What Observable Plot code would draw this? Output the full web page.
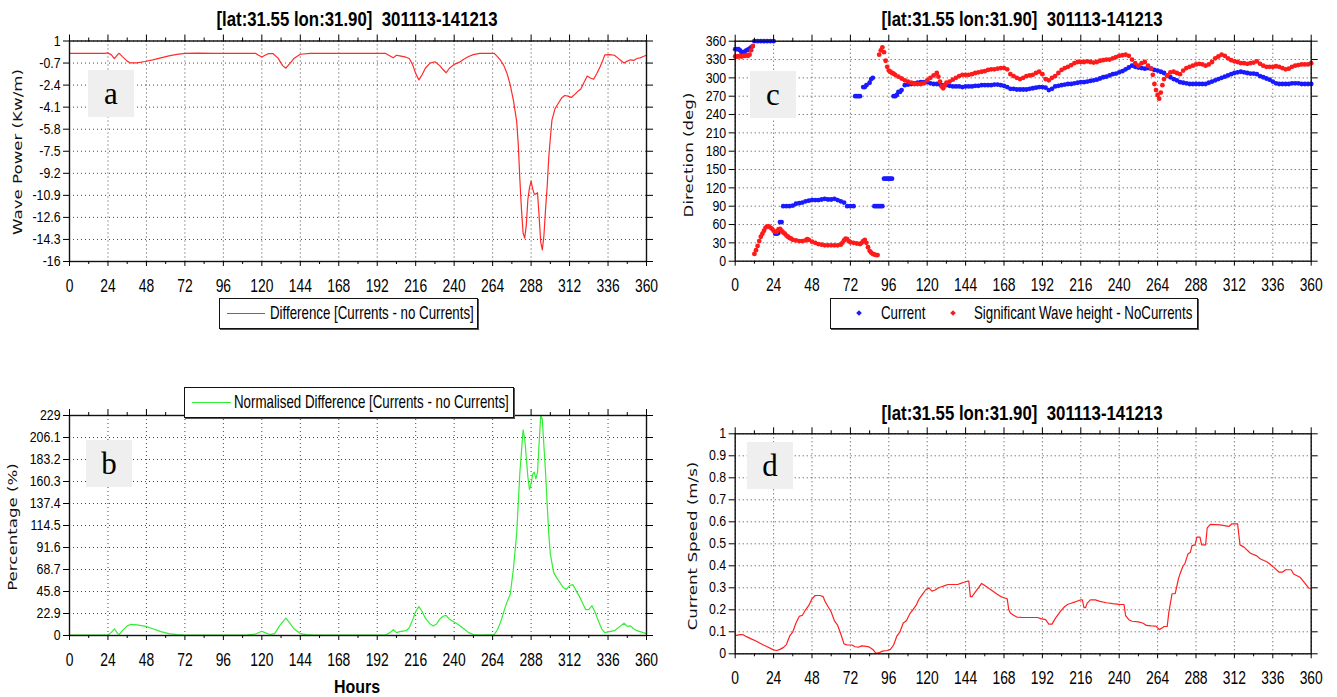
<!DOCTYPE html>
<html>
<head>
<meta charset="utf-8">
<script src="https://cdn.jsdelivr.net/npm/d3@7"></script>
<script src="https://cdn.jsdelivr.net/npm/@observablehq/plot@0.6"></script>
<style>
  body { margin: 0; background: #fff; }
  #page { position: relative; width: 1337px; height: 697px; overflow: hidden; background: #fff;
          font-family: "Liberation Sans", Arial, sans-serif; color: #000; }
  .abs { position: absolute; white-space: nowrap; }
  .title { font-weight: bold; font-size: 21px; line-height: 20px; transform: translateX(-50%) scaleX(0.8); }
  .ytitle { font-family: "DejaVu Sans", sans-serif; font-size: 13px; line-height: 14px; color: #111;
            transform: translate(-50%, -50%) rotate(-90deg) scaleX(1.28); }
  .legend { border: 1.5px solid #111; box-shadow: 1px 1px 0 #555; background: #fff; box-sizing: border-box; }
  .legend > * { position: absolute; }
  .swatch { top: 13.5px; height: 0; border-top: 1.5px solid; }
  .ltext { top: 3px; font-size: 19px; line-height: 22px; transform: scaleX(0.7); transform-origin: left center; white-space: nowrap; }
  .mark { top: 12px; width: 4px; height: 4px; transform: rotate(45deg); }
  .tag { background: #efefef; font-family: "Liberation Serif", "Times New Roman", serif; font-size: 31px;
         display: flex; align-items: center; justify-content: center; }
  .hours { font-weight: bold; font-size: 19px; line-height: 18px; transform: translate(-50%, -50%) scaleX(0.84); }
</style>
</head>
<body>
<div id="page"></div>
<script>
// Shared hour axis (0–360 h, 15 days)
const hourTicks = [0, 24, 48, 72, 96, 120, 144, 168, 192, 216, 240, 264, 288, 312, 336, 360];
const halfTicks = [12, 36, 60, 84, 108, 132, 156, 180, 204, 228, 252, 276, 300, 324, 348];

const titleText = "[lat:31.55 lon:31.90]&nbsp; 301113-141213";

// (a) Wave power difference, Currents − no Currents (kW/m)
const powerTicks = [1, -0.7, -2.4, -4.1, -5.8, -7.5, -9.2, -10.9, -12.6, -14.3, -16];
const diffHours = [0, 8, 16, 22, 24, 26, 28, 30, 31, 33, 36, 38, 42, 47, 52, 57, 62, 67, 72, 80, 90, 100, 110, 116, 118, 120, 122, 124, 127, 130, 133, 135, 137, 140, 144, 150, 160, 170, 180, 190, 197, 200, 202, 204, 206, 210, 212, 214, 216, 218, 220, 222, 225, 228, 231, 233, 235, 237, 240, 243, 246, 249, 252, 256, 265, 267, 269, 271, 273, 275, 277, 279, 280, 281, 282, 283, 284, 285, 286, 287, 288, 289, 290, 291, 292, 293, 294, 295, 296, 297, 298, 299, 300, 301, 303, 305, 307, 309, 311, 313, 315, 317, 319, 321, 323, 325, 327, 329, 331, 333, 334, 337, 340, 342, 344, 346, 348, 350, 352, 354, 356, 358, 360];
const diffValues = [0.05, 0.05, 0.05, 0.05, 0.08, -0.05, -0.35, -0.05, 0.05, -0.2, -0.55, -0.69, -0.68, -0.58, -0.45, -0.3, -0.15, -0.03, 0.05, 0.07, 0.05, 0.05, 0.05, 0.05, -0.1, -0.23, -0.1, 0.02, 0.02, -0.3, -0.9, -1.1, -0.8, -0.35, -0.02, 0.05, 0.05, 0.05, 0.05, 0.05, 0.05, -0.15, -0.3, -0.1, -0.15, -0.25, -0.35, -0.8, -1.5, -2.0, -1.6, -1.1, -0.7, -0.6, -0.9, -1.2, -1.45, -1.1, -0.8, -0.65, -0.4, -0.2, -0.05, 0.05, 0.05, -0.2, -0.5, -0.9, -1.5, -2.4, -3.6, -5.2, -7, -9.7, -12, -13.8, -14.2, -13.2, -11.2, -10.3, -9.8, -10.4, -10.8, -10.8, -10.7, -12.5, -14.5, -15.1, -14, -12, -10.3, -8, -6.5, -5.1, -4.2, -3.8, -3.4, -3.2, -3.25, -3.35, -3.15, -2.9, -2.7, -2.2, -1.7, -1.85, -1.95, -1.5, -1.0, -0.4, -0.07, -0.05, -0.1, -0.3, -0.5, -0.7, -0.55, -0.45, -0.5, -0.35, -0.3, -0.2, -0.1];

// (b) Normalised difference (%)
const percentTicks = [0, 22.9, 45.8, 68.7, 91.6, 114.5, 137.4, 160.3, 183.2, 206.1, 229];
const normHours = [0, 12, 24, 26, 28, 30, 31, 33, 36, 38, 42, 47, 52, 57, 62, 67, 72, 90, 110, 116, 120, 122, 125, 128, 131, 135, 137, 140, 144, 148, 152, 160, 180, 197, 200, 202, 204, 206, 210, 212, 214, 216, 218, 220, 222, 225, 227, 229, 231, 233, 235, 237, 240, 243, 246, 249, 252, 256, 265, 267, 269, 271, 273, 275, 277, 279, 281, 283, 284, 285, 286, 287, 288, 289, 290, 291, 292, 293, 294, 295, 297, 299, 300, 302, 304, 306, 308, 310, 312, 314, 316, 318, 320, 322, 324, 326, 328, 330, 332, 334, 337, 340, 343, 346, 348, 350, 352, 354, 356, 358, 360];
const normValues = [0.5, 0.5, 0.5, 3, 7, 2, 1, 5, 10, 11.5, 11, 9.7, 7, 4, 2, 1, 0.5, 0.5, 0.5, 1.5, 4.5, 3, 1, 2, 10, 18, 14, 7, 2, 1, 0.5, 0.5, 0.5, 0.5, 3, 6, 3, 4, 5, 8, 16, 25, 30, 25, 18, 12, 10, 12, 17, 20, 21, 17, 14, 11, 7, 3, 1, 0.5, 1, 6, 14, 25, 35, 43, 70, 106, 170, 214, 205, 185, 165, 152, 158, 168, 170, 163, 170, 200, 229, 225, 170, 106, 85, 66, 60, 55, 50, 48, 52, 53, 47, 41, 34, 27, 27, 31, 24, 15, 7, 3, 4, 5, 9, 12.8, 9.5, 10, 7, 5, 4, 3, 2];

// (c) Directions (deg)
const directionTicks = [0, 30, 60, 90, 120, 150, 180, 210, 240, 270, 300, 330, 360];
const currentHours = [0, 1, 2, 3, 4, 5, 6, 7, 8, 9, 10, 11, 12, 14, 16, 18, 20, 22, 24, 25, 26, 27, 28, 29, 30, 32, 34, 36, 38, 40, 42, 44, 46, 48, 50, 52, 54, 56, 58, 60, 62, 64, 66, 68, 70, 72, 74, 75, 76, 77, 78, 80, 81, 82, 84, 85, 86, 87, 88, 89, 90, 91, 92, 93, 94, 95, 96, 97, 98, 99, 100, 101, 102, 103, 104, 106, 108, 110, 112, 114, 116, 118, 120, 122, 124, 126, 128, 130, 132, 134, 136, 138, 140, 142, 144, 146, 148, 150, 152, 154, 156, 158, 160, 162, 164, 166, 168, 170, 172, 174, 176, 178, 180, 182, 184, 186, 188, 190, 192, 194, 196, 198, 200, 202, 204, 206, 208, 210, 212, 214, 216, 218, 220, 222, 224, 226, 228, 230, 232, 234, 236, 238, 240, 242, 244, 246, 248, 250, 252, 254, 256, 258, 260, 262, 264, 266, 268, 270, 272, 274, 276, 278, 280, 282, 284, 286, 288, 290, 292, 294, 296, 298, 300, 302, 304, 306, 308, 310, 312, 314, 316, 318, 320, 322, 324, 326, 328, 330, 332, 334, 336, 338, 340, 342, 344, 346, 348, 350, 352, 354, 356, 358, 360];
const currentDir = [347, 347, 347, 345, 342, 342, 343, 345, 346, 348, 350, 352, 360, 360, 360, 360, 360, 360, 360, 45, 45, 46, 64, 64, 90, 90, 90, 91, 94, 95, 96, 98, 99, 100, 100, 100, 101, 102, 101, 101, 102, 100, 98, 96, 90, 90, 90, 270, 270, 270, 270, 285, 285, 288, 292, 298, 300, 90, 90, 90, 90, 90, 90, 135, 135, 135, 135, 135, 135, 270, 270, 272, 277, 277, 280, 288, 289, 290, 291, 292, 293, 293, 293, 291, 290, 290, 289, 288, 288, 287, 286, 286, 286, 285, 286, 286, 286, 287, 287, 288, 288, 288, 288, 289, 289, 288, 287, 285, 282, 282, 281, 281, 281, 281, 282, 283, 284, 285, 285, 284, 280, 282, 286, 287, 288, 289, 290, 290, 291, 292, 293, 293, 294, 295, 296, 297, 299, 301, 302, 304, 306, 307, 309, 311, 314, 317, 320, 318, 317, 316, 315, 316, 315, 313, 312, 310, 308, 304, 301, 298, 296, 293, 292, 291, 290, 290, 290, 290, 290, 290, 292, 294, 296, 298, 300, 302, 304, 306, 308, 309, 310, 309, 308, 307, 307, 306, 303, 301, 299, 297, 294, 291, 290, 290, 290, 290, 291, 291, 291, 290, 290, 290, 290];
const waveHours = [0, 1, 2, 3, 4, 5, 6, 7, 8, 9, 10, 11, 12, 13, 14, 15, 16, 17, 18, 19, 20, 21, 22, 23, 24, 25, 26, 27, 28, 29, 30, 31, 32, 33, 34, 35, 36, 38, 40, 42, 44, 45, 46, 48, 50, 52, 54, 56, 58, 60, 62, 64, 66, 67, 68, 69, 70, 71, 72, 74, 76, 78, 79, 80, 81, 82, 83, 84, 85, 86, 87, 88, 89, 90, 91, 92, 93, 94, 95, 96, 97, 98, 99, 100, 102, 104, 106, 108, 110, 112, 114, 116, 118, 120, 122, 124, 126, 127, 128, 129, 130, 131, 132, 134, 136, 138, 140, 142, 144, 146, 148, 150, 152, 154, 156, 158, 160, 162, 164, 166, 168, 170, 172, 174, 176, 178, 180, 182, 184, 186, 188, 190, 192, 194, 196, 198, 200, 202, 204, 206, 208, 210, 212, 214, 216, 218, 220, 222, 224, 226, 228, 230, 232, 234, 236, 238, 240, 242, 244, 246, 248, 250, 252, 254, 256, 258, 260, 261, 262, 263, 264, 265, 266, 267, 268, 270, 272, 274, 276, 278, 280, 282, 284, 286, 288, 290, 292, 294, 296, 298, 300, 302, 304, 306, 308, 310, 312, 314, 316, 318, 320, 322, 324, 326, 328, 330, 332, 334, 336, 338, 340, 342, 344, 346, 348, 350, 352, 354, 356, 358, 360];
const waveDir = [335, 335, 335, 336, 335, 336, 336, 337, 336, 338, 345, 352, 12, 18, 25, 33, 40, 45, 50, 55, 57, 57, 55, 53, 50, 48, 48, 52, 53, 50, 47, 45, 42, 40, 38, 37, 35, 34, 33, 33, 34, 36, 35, 32, 30, 28, 27, 26, 26, 26, 26, 26, 27, 30, 34, 37, 36, 33, 31, 30, 29, 28, 30, 33, 35, 30, 23, 17, 14, 12, 11, 10, 10, 338, 345, 350, 342, 328, 318, 312, 310, 308, 307, 305, 302, 299, 296, 294, 292, 290, 290, 290, 291, 296, 300, 304, 308, 302, 294, 286, 283, 288, 292, 294, 297, 300, 303, 305, 305, 305, 306, 308, 309, 310, 311, 313, 314, 314, 315, 316, 316, 314, 306, 303, 300, 298, 300, 303, 304, 305, 308, 310, 306, 298, 296, 300, 303, 308, 313, 316, 318, 321, 324, 326, 326, 326, 327, 326, 325, 326, 328, 329, 330, 330, 332, 334, 336, 337, 338, 336, 330, 324, 320, 324, 326, 320, 315, 305, 290, 280, 272, 266, 276, 288, 298, 304, 309, 310, 308, 306, 312, 316, 318, 320, 322, 323, 322, 320, 322, 326, 332, 335, 338, 336, 332, 329, 327, 326, 324, 324, 323, 324, 325, 327, 323, 320, 318, 318, 318, 319, 318, 316, 314, 315, 318, 320, 321, 322, 322, 322, 324];

// (d) Current speed (m/s)
const speedTicks = [0, 0.1, 0.2, 0.3, 0.4, 0.5, 0.6, 0.7, 0.8, 0.9, 1];
const speedHours = [0, 3, 5, 7, 10, 13, 17, 20, 24, 26, 28, 30, 32, 34, 36, 38, 40, 42, 44, 46, 48, 50, 53, 55, 56, 58, 60, 62, 64, 66, 68, 70, 73, 75, 77, 79, 82, 84, 86, 88, 90, 92, 95, 97, 99, 101, 103, 105, 107, 109, 111, 113, 115, 117, 119, 121, 123, 125, 127, 129, 131, 133, 136, 139, 141, 143, 145, 146, 147, 148, 150, 152, 154, 156, 158, 160, 162, 164, 166, 168, 170, 171, 172, 174, 176, 180, 185, 189, 191, 194, 196, 198, 200, 202, 204, 206, 208, 210, 212, 214, 216, 217, 218, 219, 220, 222, 225, 228, 232, 236, 240, 243, 244, 246, 248, 252, 255, 257, 260, 263, 265, 267, 268, 270, 271, 273, 275, 277, 278, 280, 281, 283, 284.5, 285.5, 287.5, 288.5, 290.5, 291.5, 294, 295, 297, 303, 308.5, 310.5, 314, 315.5, 318, 322, 326, 328, 332.5, 336.5, 340, 342, 344, 347.5, 349, 353, 355.5, 358.5, 360];
const speedValues = [0.083, 0.087, 0.087, 0.078, 0.068, 0.058, 0.042, 0.032, 0.018, 0.015, 0.02, 0.028, 0.042, 0.08, 0.1, 0.14, 0.17, 0.175, 0.2, 0.22, 0.25, 0.265, 0.265, 0.26, 0.24, 0.215, 0.19, 0.15, 0.13, 0.09, 0.045, 0.04, 0.04, 0.032, 0.03, 0.036, 0.034, 0.03, 0.02, 0.002, 0.005, 0.012, 0.015, 0.02, 0.04, 0.08, 0.1, 0.14, 0.15, 0.18, 0.2, 0.22, 0.25, 0.27, 0.29, 0.3, 0.285, 0.29, 0.3, 0.305, 0.31, 0.315, 0.315, 0.315, 0.32, 0.325, 0.33, 0.33, 0.26, 0.26, 0.28, 0.3, 0.32, 0.31, 0.3, 0.29, 0.28, 0.27, 0.26, 0.255, 0.25, 0.2, 0.185, 0.175, 0.167, 0.165, 0.165, 0.165, 0.16, 0.155, 0.135, 0.135, 0.16, 0.18, 0.2, 0.215, 0.225, 0.23, 0.235, 0.24, 0.245, 0.245, 0.21, 0.21, 0.23, 0.245, 0.245, 0.238, 0.232, 0.228, 0.225, 0.224, 0.174, 0.155, 0.148, 0.145, 0.139, 0.129, 0.127, 0.126, 0.11, 0.118, 0.124, 0.124, 0.187, 0.273, 0.273, 0.34, 0.363, 0.401, 0.409, 0.454, 0.462, 0.492, 0.495, 0.53, 0.53, 0.495, 0.495, 0.572, 0.588, 0.586, 0.579, 0.591, 0.591, 0.495, 0.485, 0.457, 0.445, 0.432, 0.417, 0.394, 0.371, 0.371, 0.382, 0.382, 0.363, 0.348, 0.326, 0.298, 0.298];

const TICK_FONT = "'Liberation Sans', Arial, sans-serif";
const page = document.getElementById("page");

function el(cls, css, html, parent = page) {
  const d = document.createElement("div");
  d.className = (parent === page ? "abs " : "") + cls;
  Object.assign(d.style, css);
  if (html !== undefined) d.innerHTML = html;
  parent.append(d);
  return d;
}

// Narrow the tick labels horizontally, keeping each anchor point fixed
function squeeze(svg, selector, sx) {
  svg.querySelectorAll(selector).forEach((t) => {
    let tr = t.getAttribute("transform");
    if (!tr) {
      const x = t.getAttribute("x") || 0;
      t.setAttribute("x", 0);
      tr = `translate(${x},0)`;
    }
    t.setAttribute("transform", `${tr} scale(${sx},1)`);
  });
}

// One framed panel: dotted grid, outward ticks on all four sides, labels left and bottom
function panel({left, top, width, height, plotLeft, plotRight, plotTop, plotBottom, yDomain, yTicks, marks}) {
  const dotted = {stroke: "#333", strokeOpacity: 0.9, strokeDasharray: "1,3"};
  const svg = Plot.plot({
    width, height,
    marginLeft: plotLeft - left,
    marginRight: left + width - plotRight,
    marginTop: plotTop - top,
    marginBottom: top + height - plotBottom,
    x: {domain: [0, 360]},
    y: {domain: yDomain},
    style: {fontFamily: TICK_FONT, background: "transparent", overflow: "visible", color: "#000"},
    marks: [
      Plot.gridX(hourTicks, dotted),
      Plot.gridY(yTicks, dotted),
      ...marks,
      Plot.frame({stroke: "#111", strokeWidth: 1.4}),
      Plot.axisX(hourTicks, {anchor: "bottom", tickSize: 5, tickPadding: 12, tickFormat: String, fontSize: 18.5, label: null}),
      Plot.axisX(halfTicks, {anchor: "bottom", tickSize: 3, tickFormat: () => "", label: null}),
      Plot.axisX(hourTicks, {anchor: "top", tickSize: 7, tickFormat: () => "", label: null}),
      Plot.axisX(halfTicks, {anchor: "top", tickSize: 4, tickFormat: () => "", label: null}),
      Plot.axisY(yTicks, {anchor: "left", tickSize: 6, tickPadding: 3, tickFormat: String, fontSize: 14.5, label: null}),
      Plot.axisY(yTicks, {anchor: "right", tickSize: 6, tickFormat: () => "", label: null})
    ]
  });
  squeeze(svg, 'g[aria-label="x-axis tick label"] text', 0.75);
  squeeze(svg, 'g[aria-label="y-axis tick label"] text', 0.85);
  Object.assign(svg.style, {position: "absolute", left: left + "px", top: top + "px"});
  page.append(svg);
}

// (a)
panel({left: 0, top: 0, width: 660, height: 300, plotLeft: 69, plotRight: 646, plotTop: 40.5, plotBottom: 261,
  yDomain: [-16, 1], yTicks: powerTicks,
  marks: [Plot.line(diffValues, {x: diffHours, y: diffValues, stroke: "#ff2a2a", strokeWidth: 1.2})]});
// (b)
panel({left: 0, top: 370, width: 660, height: 300, plotLeft: 69, plotRight: 646, plotTop: 415, plotBottom: 635,
  yDomain: [0, 229], yTicks: percentTicks,
  marks: [Plot.line(normValues, {x: normHours, y: normValues, stroke: "#33ee33", strokeWidth: 1.2})]});
// (c)
panel({left: 670, top: 0, width: 667, height: 300, plotLeft: 734.7, plotRight: 1310.7, plotTop: 40.7, plotBottom: 260.7,
  yDomain: [0, 360], yTicks: directionTicks,
  marks: [
    Plot.dot(currentDir, {x: currentHours, y: currentDir, r: 2.4, fill: "#1a1aff", stroke: "none"}),
    Plot.dot(waveDir, {x: waveHours, y: waveDir, r: 2.4, fill: "#ff1a1a", stroke: "none"})
  ]});
// (d)
panel({left: 670, top: 370, width: 667, height: 327, plotLeft: 734.7, plotRight: 1310.7, plotTop: 433.3, plotBottom: 653.3,
  yDomain: [0, 1], yTicks: speedTicks,
  marks: [Plot.line(speedValues, {x: speedHours, y: speedValues, stroke: "#ff2020", strokeWidth: 1.2})]});

// Titles
el("title", {left: "357px", top: "9px"}, titleText);
el("title", {left: "1022px", top: "9px"}, titleText);
el("title", {left: "1022px", top: "403px"}, titleText);

// Axis titles
el("ytitle", {left: "18px", top: "152px"}, "Wave Power (Kw/m)");
el("ytitle", {left: "13px", top: "527px"}, "Percentage (%)");
el("ytitle", {left: "689px", top: "155px"}, "Direction (deg)");
el("ytitle", {left: "693px", top: "546px"}, "Current Speed (m/s)");
el("hours", {left: "357px", top: "687px"}, "Hours");

// Legends
function legend(css, items) {
  const box = el("legend", css);
  for (const [cls, style, text] of items) el(cls, style, text, box);
}
legend({left: "219px", top: "298px", width: "259px", height: "31px"}, [
  ["swatch", {left: "7px", width: "38px", borderColor: "#ff2a2a"}],
  ["ltext", {left: "50px"}, "Difference [Currents - no Currents]"]
]);
legend({left: "184px", top: "387px", width: "330px", height: "31px"}, [
  ["swatch", {left: "7px", width: "39px", borderColor: "#33ee33"}],
  ["ltext", {left: "49px"}, "Normalised Difference [Currents - no Currents]"]
]);
legend({left: "830px", top: "298px", width: "368px", height: "31px"}, [
  ["mark", {left: "25.5px", background: "#1a1aff"}],
  ["ltext", {left: "50px"}, "Current"],
  ["mark", {left: "119.5px", background: "#ff1a1a"}],
  ["ltext", {left: "143px"}, "Significant Wave height - NoCurrents"]
]);

// Panel tags
el("tag", {left: "88px", top: "70px", width: "46px", height: "47px"}, "a");
el("tag", {left: "86px", top: "440px", width: "46px", height: "47px"}, "b");
el("tag", {left: "750px", top: "71px", width: "46px", height: "47px"}, "c");
el("tag", {left: "747px", top: "442px", width: "46px", height: "47px"}, "d");
</script>
</body>
</html>
